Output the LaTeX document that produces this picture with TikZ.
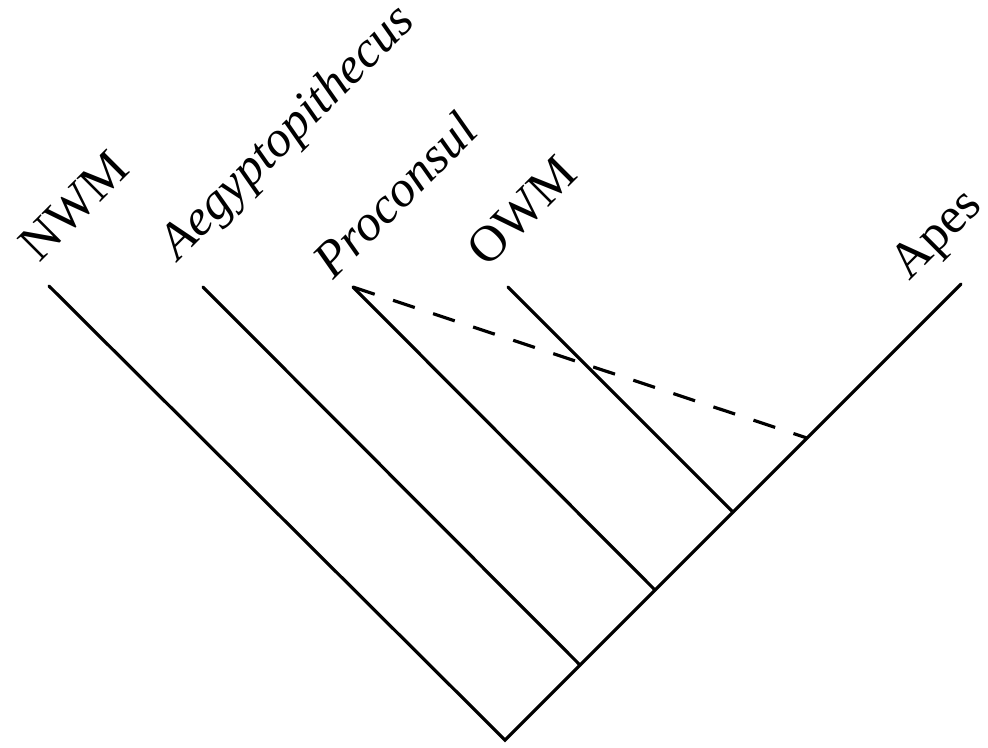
\documentclass[tikz,border=0pt]{standalone}
\usepackage{fontspec}
\setmainfont{Liberation Serif}
\usepackage{tikz}
\usetikzlibrary{positioning}
\definecolor{tline}{HTML}{000000}
\tikzset{
  branch/.style={line width=0.9pt, tline, line cap=round},
  fossil/.style={line width=0.9pt, tline, dash pattern=on 6.5pt off 5.5pt},
  taxon/.style={rotate=45, anchor=base west, inner sep=0pt, tline,
                font=\fontsize{14.5}{16}\selectfont},
}
\begin{document}
\begin{tikzpicture}[x=0.01cm, y=-0.01cm]
  \useasboundingbox (0,0) rectangle (988,747);

  %% Tips and joints
  \coordinate (root) at (505,740);
  \coordinate (tNWM) at (49,286);
  \coordinate (tAeg) at (203,287);
  \coordinate (tPro) at (353,287);
  \coordinate (tOWM) at (508,287);
  \coordinate (tApe) at (961,284);
  \coordinate (jAeg) at (580,665);
  \coordinate (jPro) at (655,590);
  \coordinate (jOWM) at (733,512);
  \coordinate (jFos) at (807,438);

  %% Branches
  \draw[branch] (tNWM) -- (root) -- (tApe);
  \draw[branch] (tAeg) -- (jAeg);
  \draw[branch] (tPro) -- (jPro);
  \draw[branch] (tOWM) -- (jOWM);
  % Proconsul as stem ape
  \draw[fossil] (tPro) -- (jFos);

  %% Taxon labels
  \node[taxon] (lNWM) at (39,264) {NWM};
  \node[taxon] (lAeg) at (178,262) {\itshape Aegyptopithecus};
  \node[taxon] (lPro) at (333,281) {\itshape Proconsul};
  \node[taxon] (lOWM) at (487,269) {OWM};
  \node[taxon] (lApe) at (909,282) {Apes};

\end{tikzpicture}
\end{document}
